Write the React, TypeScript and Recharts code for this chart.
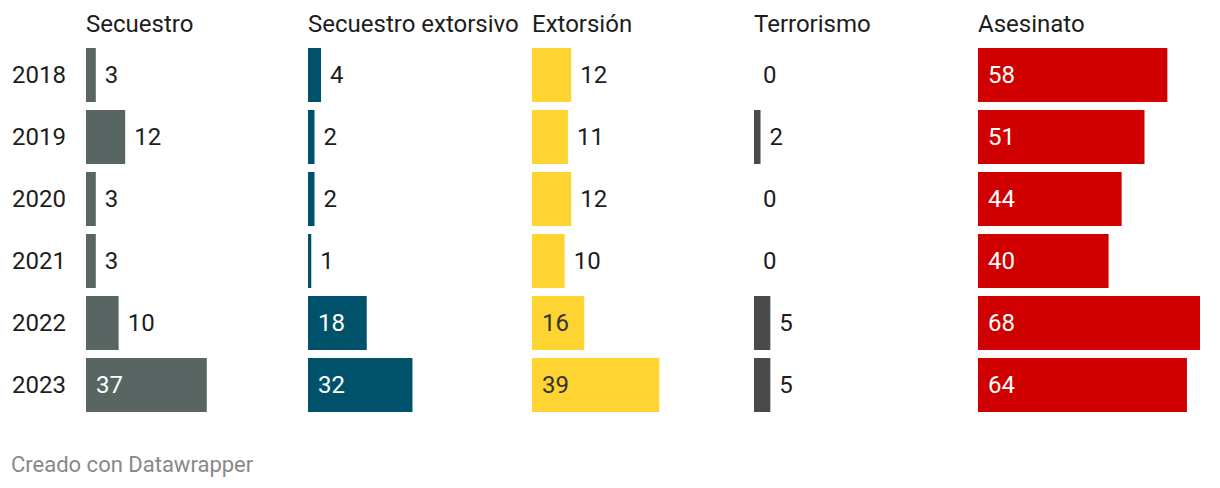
import React from "react";
import { BarChart, Bar, XAxis, YAxis, LabelList } from "recharts";

const years = ["2018", "2019", "2020", "2021", "2022", "2023"];
const secuestro = [3, 12, 3, 3, 10, 37];
const secuestroExtorsivo = [4, 2, 2, 1, 18, 32];
const extorsion = [12, 11, 12, 10, 16, 39];
const terrorismo = [0, 2, 0, 0, 5, 5];
const asesinato = [58, 51, 44, 40, 68, 64];

const panels = [
  { title: "Secuestro", values: secuestro, color: "#586562", left: 86, dark: true },
  { title: "Secuestro extorsivo", values: secuestroExtorsivo, color: "#00526b", left: 308, dark: true },
  { title: "Extorsión", values: extorsion, color: "#fdd432", left: 532, dark: false },
  { title: "Terrorismo", values: terrorismo, color: "#4a4a4a", left: 754, dark: true },
  { title: "Asesinato", values: asesinato, color: "#d10000", left: 978, dark: true },
];

const FONT = "Roboto, 'Noto Sans', sans-serif";
const TEXT = "#1d1d1d";
const PLOT_W = 222;
const TOP = 44;
const BAND = 62;

function ValueLabel(props: any) {
  const { x, y, width, height, value, dark } = props;
  const inside = width >= 50;
  const fill = inside ? (dark ? "#ffffff" : "#333333") : TEXT;
  return (
    <text
      x={inside ? x + 10 : x + width + 9}
      y={y + height / 2 + 8}
      fontSize={24}
      fontFamily={FONT}
      fill={fill}
    >
      {value}
    </text>
  );
}

function YearTick(props: any) {
  const { y, payload } = props;
  return (
    <text x={12} y={y + 8} fontSize={24} fontFamily={FONT} fill={TEXT}>
      {payload.value}
    </text>
  );
}

function Panel({ p, index }: { p: (typeof panels)[number]; index: number }) {
  const data = years.map((year, i) => ({ year, value: p.values[i] }));
  const first = index === 0;
  const leftW = first ? p.left : 0;
  return (
    <div style={{ position: "absolute", left: first ? 0 : p.left, top: 0 }}>
      <BarChart
        layout="vertical"
        width={leftW + PLOT_W + 2}
        height={TOP + BAND * years.length + 4}
        data={data}
        margin={{ top: TOP, right: 2, bottom: 4, left: 0 }}
        barCategoryGap={4}
        style={{ overflow: "visible" }}
      >
        <XAxis type="number" domain={[0, 68]} hide allowDataOverflow />
        <YAxis
          type="category"
          dataKey="year"
          width={leftW}
          hide={!first}
          axisLine={false}
          tickLine={false}
          tick={<YearTick />}
        />
        <Bar dataKey="value" fill={p.color} barSize={54} minPointSize={0.01} isAnimationActive={false}>
          <LabelList dataKey="value" content={(lp: any) => <ValueLabel {...lp} dark={p.dark} />} />
        </Bar>
      </BarChart>
      <div
        style={{
          position: "absolute",
          left: leftW,
          top: 9,
          fontSize: 24,
          lineHeight: "30px",
          fontFamily: FONT,
          color: TEXT,
          whiteSpace: "nowrap",
        }}
      >
        {p.title}
      </div>
    </div>
  );
}

export default function App() {
  return (
    <div
      style={{
        position: "absolute",
        left: 0,
        top: 0,
        width: 1220,
        height: 488,
        background: "#ffffff",
        fontFamily: FONT,
      }}
    >
      {panels.map((p, i) => (
        <Panel key={p.title} p={p} index={i} />
      ))}
      <div
        style={{
          position: "absolute",
          left: 11,
          top: 451,
          fontSize: 22,
          lineHeight: "28px",
          fontFamily: FONT,
          color: "#888888",
        }}
      >
        Creado con Datawrapper
      </div>
    </div>
  );
}
